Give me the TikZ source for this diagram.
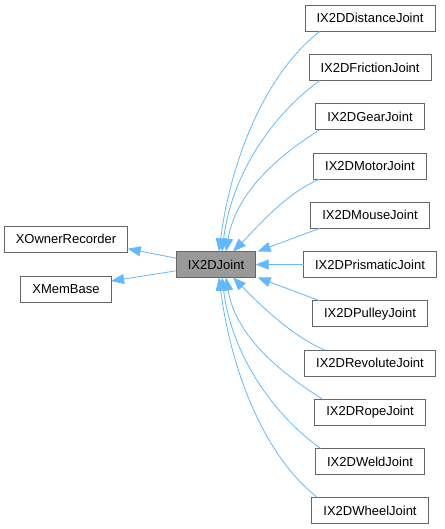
\documentclass[tikz,border=0pt]{standalone}
\usepackage{fontspec}
\setmainfont{Liberation Sans}
\usepackage{tikz}
\usetikzlibrary{arrows.meta,calc,positioning}
\definecolor{edgeblue}{HTML}{63B8FF}
\definecolor{nodeborder}{HTML}{666666}
\definecolor{nodefill}{HTML}{999999}
\newdimen\hdim
\newdimen\rdim
\hdim=26pt
\rdim=49.25pt
\tikzstyle{element}=[
  draw=nodeborder,
  fill=white,
  font={\fontsize{13}{15}\selectfont},
  inner xsep=11.5pt,
  inner ysep=0pt,
  minimum height=\hdim,
  outer sep=0pt,
  rectangle,
  text centered,
  line width=0.9pt,
]
\tikzstyle{current}=[element, fill=nodefill]
\tikzstyle{derive}=[
  color=edgeblue,
  draw=edgeblue,
  line width=0.8pt,
]
\tikzset{
  node distance=\rdim,
  >={Triangle[length=13pt,width=10pt]},
}
\begin{document}
\begin{tikzpicture}[x=1pt, y=-1pt]
      \useasboundingbox (0,0) rectangle (444,529);
      \node (joint) [current] at (216,264.5) {IX2DJoint};
      \node (ownerrec) [element] at (66,239) {XOwnerRecorder};
      \node (membase) [element, below of=ownerrec, node distance=50pt] {XMemBase};
      \node (prismatic) [element] at (370,264.5) {IX2DPrismaticJoint};
      \node (mouse) [element, above of=prismatic] {IX2DMouseJoint};
      \node (motor) [element, above of=mouse] {IX2DMotorJoint};
      \node (gear) [element, above of=motor] {IX2DGearJoint};
      \node (friction) [element, above of=gear] {IX2DFrictionJoint};
      \node (distance) [element, above of=friction] {IX2DDistanceJoint};
      \node (pulley) [element, below of=prismatic] {IX2DPulleyJoint};
      \node (revolute) [element, below of=pulley] {IX2DRevoluteJoint};
      \node (rope) [element, below of=revolute] {IX2DRopeJoint};
      \node (weld) [element, below of=rope] {IX2DWeldJoint};
      \node (wheel) [element, below of=weld] {IX2DWheelJoint};
      \draw [->, derive] (joint.171) -- (ownerrec.-9);
      \draw [->, derive] (joint.189) -- (membase.10);
      \draw [->, derive] ([xshift=15pt]distance.south west) .. controls +(-50,38) and +(13,-100) .. ([xshift=3pt]joint.north);
      \draw [->, derive] ([xshift=11pt]friction.south west) .. controls +(-45,32) and +(10,-80) .. ([xshift=6pt]joint.north);
      \draw [->, derive] ([xshift=4pt]gear.south west) .. controls +(-40,25) and +(10,-60) .. ([xshift=10pt]joint.north);
      \draw [->, derive] ([xshift=6pt]motor.south west) .. controls +(-35,15) and +(25,-25) .. ([xshift=17pt]joint.north);
      \draw [->, derive] ([xshift=9pt]mouse.south west) -- ([xshift=2pt]joint.north east);
      \draw [->, derive] (prismatic.west) -- (joint.east);
      \draw [->, derive] ([xshift=7pt]pulley.north west) -- ([xshift=2pt]joint.south east);
      \draw [->, derive] ([xshift=20pt]revolute.north west) .. controls +(-35,-15) and +(25,25) .. ([xshift=17pt]joint.south);
      \draw [->, derive] ([xshift=8pt]rope.north west) .. controls +(-40,-25) and +(10,60) .. ([xshift=10pt]joint.south);
      \draw [->, derive] ([xshift=5pt]weld.north west) .. controls +(-45,-32) and +(10,80) .. ([xshift=6pt]joint.south);
      \draw [->, derive] ([xshift=6pt]wheel.north west) .. controls +(-50,-38) and +(13,100) .. ([xshift=3pt]joint.south);
    \end{tikzpicture}
\end{document}
